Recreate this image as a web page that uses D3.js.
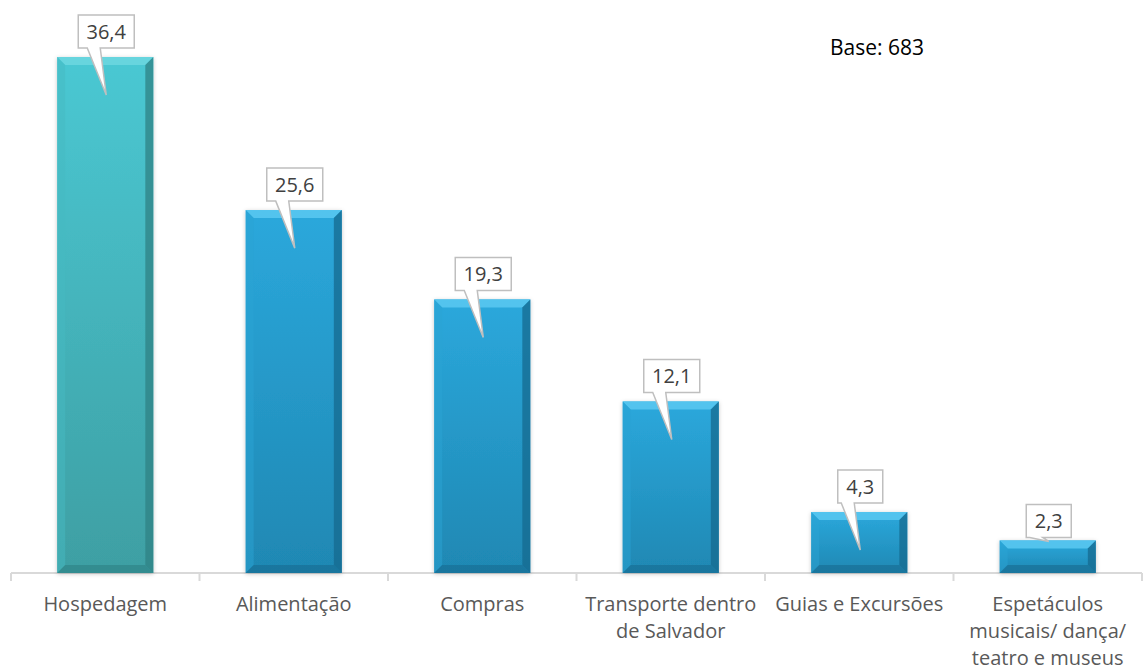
<!DOCTYPE html>
<html><head><meta charset="utf-8">
<script src="https://cdn.jsdelivr.net/npm/d3@7"></script>
<style>body{margin:0;background:#fff}svg{display:block}</style>
</head><body>
<script>
const categories = [["Hospedagem"],["Alimentação"],["Compras"],["Transporte dentro","de Salvador"],["Guias e Excursões"],["Espetáculos","musicais/ dança/","teatro e museus"]];
const values = [36.4, 25.6, 19.3, 12.1, 4.3, 2.3];
const valueLabels = ["36,4","25,6","19,3","12,1","4,3","2,3"];
const baseNote = "Base: 683";

const W = 1143, H = 672;
const svg = d3.select("body").append("svg").attr("width", W).attr("height", H);
const defs = svg.append("defs");

const x = d3.scaleBand().domain(d3.range(values.length)).range([11, 1142]).paddingInner(0.49).paddingOuter(0.245);
const y = d3.scaleLinear().domain([0, 36.4]).range([573, 57]);

function grad(id, c1, c2) {
  const g = defs.append("linearGradient").attr("id", id).attr("x1",0).attr("y1",0).attr("x2",0).attr("y2",1);
  g.append("stop").attr("offset","0%").attr("stop-color",c1);
  g.append("stop").attr("offset","100%").attr("stop-color",c2);
}
grad("gTeal", "#4ac8d3", "#3e9fa3");
grad("gBlue", "#2ba8dc", "#1f88b3");
const f = defs.append("filter").attr("id","sh").attr("x","-20%").attr("y","-20%").attr("width","140%").attr("height","140%");
f.append("feDropShadow").attr("dx",0).attr("dy",1).attr("stdDeviation",2).attr("flood-color","#000").attr("flood-opacity",0.22);

// axis
const axisG = svg.append("g");
axisG.append("line").attr("x1",11).attr("x2",1142).attr("y1",y(0)).attr("y2",y(0)).attr("stroke","#d9d9d9").attr("stroke-width",2);
const bounds = d3.range(values.length + 1).map(i => i < values.length ? x(i) - x.step()*x.paddingInner()/2 : 1142);
axisG.selectAll("line.tk").data(bounds).join("line").attr("class","tk")
  .attr("x1",d=>d).attr("x2",d=>d).attr("y1",y(0)).attr("y2",y(0)+8).attr("stroke","#d9d9d9").attr("stroke-width",2);

// bars
const bev = 8;
values.forEach((v, i) => {
  const x0 = x(i), w = x.bandwidth(), y0 = y(v), h = y(0) - y(v);
  const teal = i === 0;
  const g = svg.append("g");
  g.append("rect").attr("x",x0).attr("y",y0).attr("width",w).attr("height",h)
    .attr("fill", teal ? "url(#gTeal)" : "url(#gBlue)").attr("filter","url(#sh)");
  const b = Math.min(bev, h/2);
  const top = teal ? "#6ad6df" : "#58c6ef";
  const left = teal ? "#46b9c2" : "#2aa3d4";
  const right = teal ? "#2f8184" : "#16698f";
  const bottom = teal ? "#2f8487" : "#186f96";
  const p = (pts) => "M" + pts.map(q => q.join(",")).join("L") + "Z";
  g.append("path").attr("d", p([[x0,y0],[x0+w,y0],[x0+w-b,y0+b],[x0+b,y0+b]])).attr("fill",top).attr("opacity",0.9);
  g.append("path").attr("d", p([[x0,y0],[x0+b,y0+b],[x0+b,y0+h-b],[x0,y0+h]])).attr("fill",left).attr("opacity",0.5);
  g.append("path").attr("d", p([[x0+w,y0],[x0+w,y0+h],[x0+w-b,y0+h-b],[x0+w-b,y0+b]])).attr("fill",right).attr("opacity",0.75);
  g.append("path").attr("d", p([[x0,y0+h],[x0+w,y0+h],[x0+w-b,y0+h-b],[x0+b,y0+h-b]])).attr("fill",bottom).attr("opacity",0.7);
});

// callouts
values.forEach((v, i) => {
  const cx = x(i) + x.bandwidth()/2 + 1;
  const h = y(0) - y(v);
  const small = h < 45;
  const boxBottom = small ? y(v) - 3 : y(v) - 9;
  const bh = 33;
  const g = svg.append("g");
  const t = g.append("text").attr("x", cx).attr("y", boxBottom - bh/2 + 7)
    .attr("text-anchor","middle").attr("font-family","'Open Sans', sans-serif").attr("font-size",20)
    .attr("fill","#404040").text(valueLabels[i]);
  const tw = t.node().getComputedTextLength();
  const bw = Math.round(tw + 17);
  const l = cx - bw/2, r = cx + bw/2, tp = boxBottom - bh;
  const tipY = small ? y(v) + 1 : y(v) + 38;
  const a = cx - 19, c = cx - 6;
  const d = `M${l},${tp}L${r},${tp}L${r},${boxBottom}L${c},${boxBottom}L${cx},${tipY}L${a},${boxBottom}L${l},${boxBottom}Z`;
  g.insert("path","text").attr("d", d).attr("fill","#fff").attr("stroke","#bfbfbf").attr("stroke-width",1.5).attr("stroke-linejoin","miter");
});

// category labels
values.forEach((v, i) => {
  const cx = x(i) + x.bandwidth()/2;
  const t = svg.append("text").attr("text-anchor","middle").attr("font-family","'Open Sans', sans-serif")
    .attr("font-size",20).attr("fill","#595959");
  categories[i].forEach((line, k) => {
    t.append("tspan").attr("x", cx).attr("y", 611 + k*27).text(line);
  });
});

svg.append("text").attr("x",830).attr("y",55).attr("font-family","'Open Sans', sans-serif").attr("font-size",21)
  .attr("fill","#000").text(baseNote);
</script>
</body></html>
